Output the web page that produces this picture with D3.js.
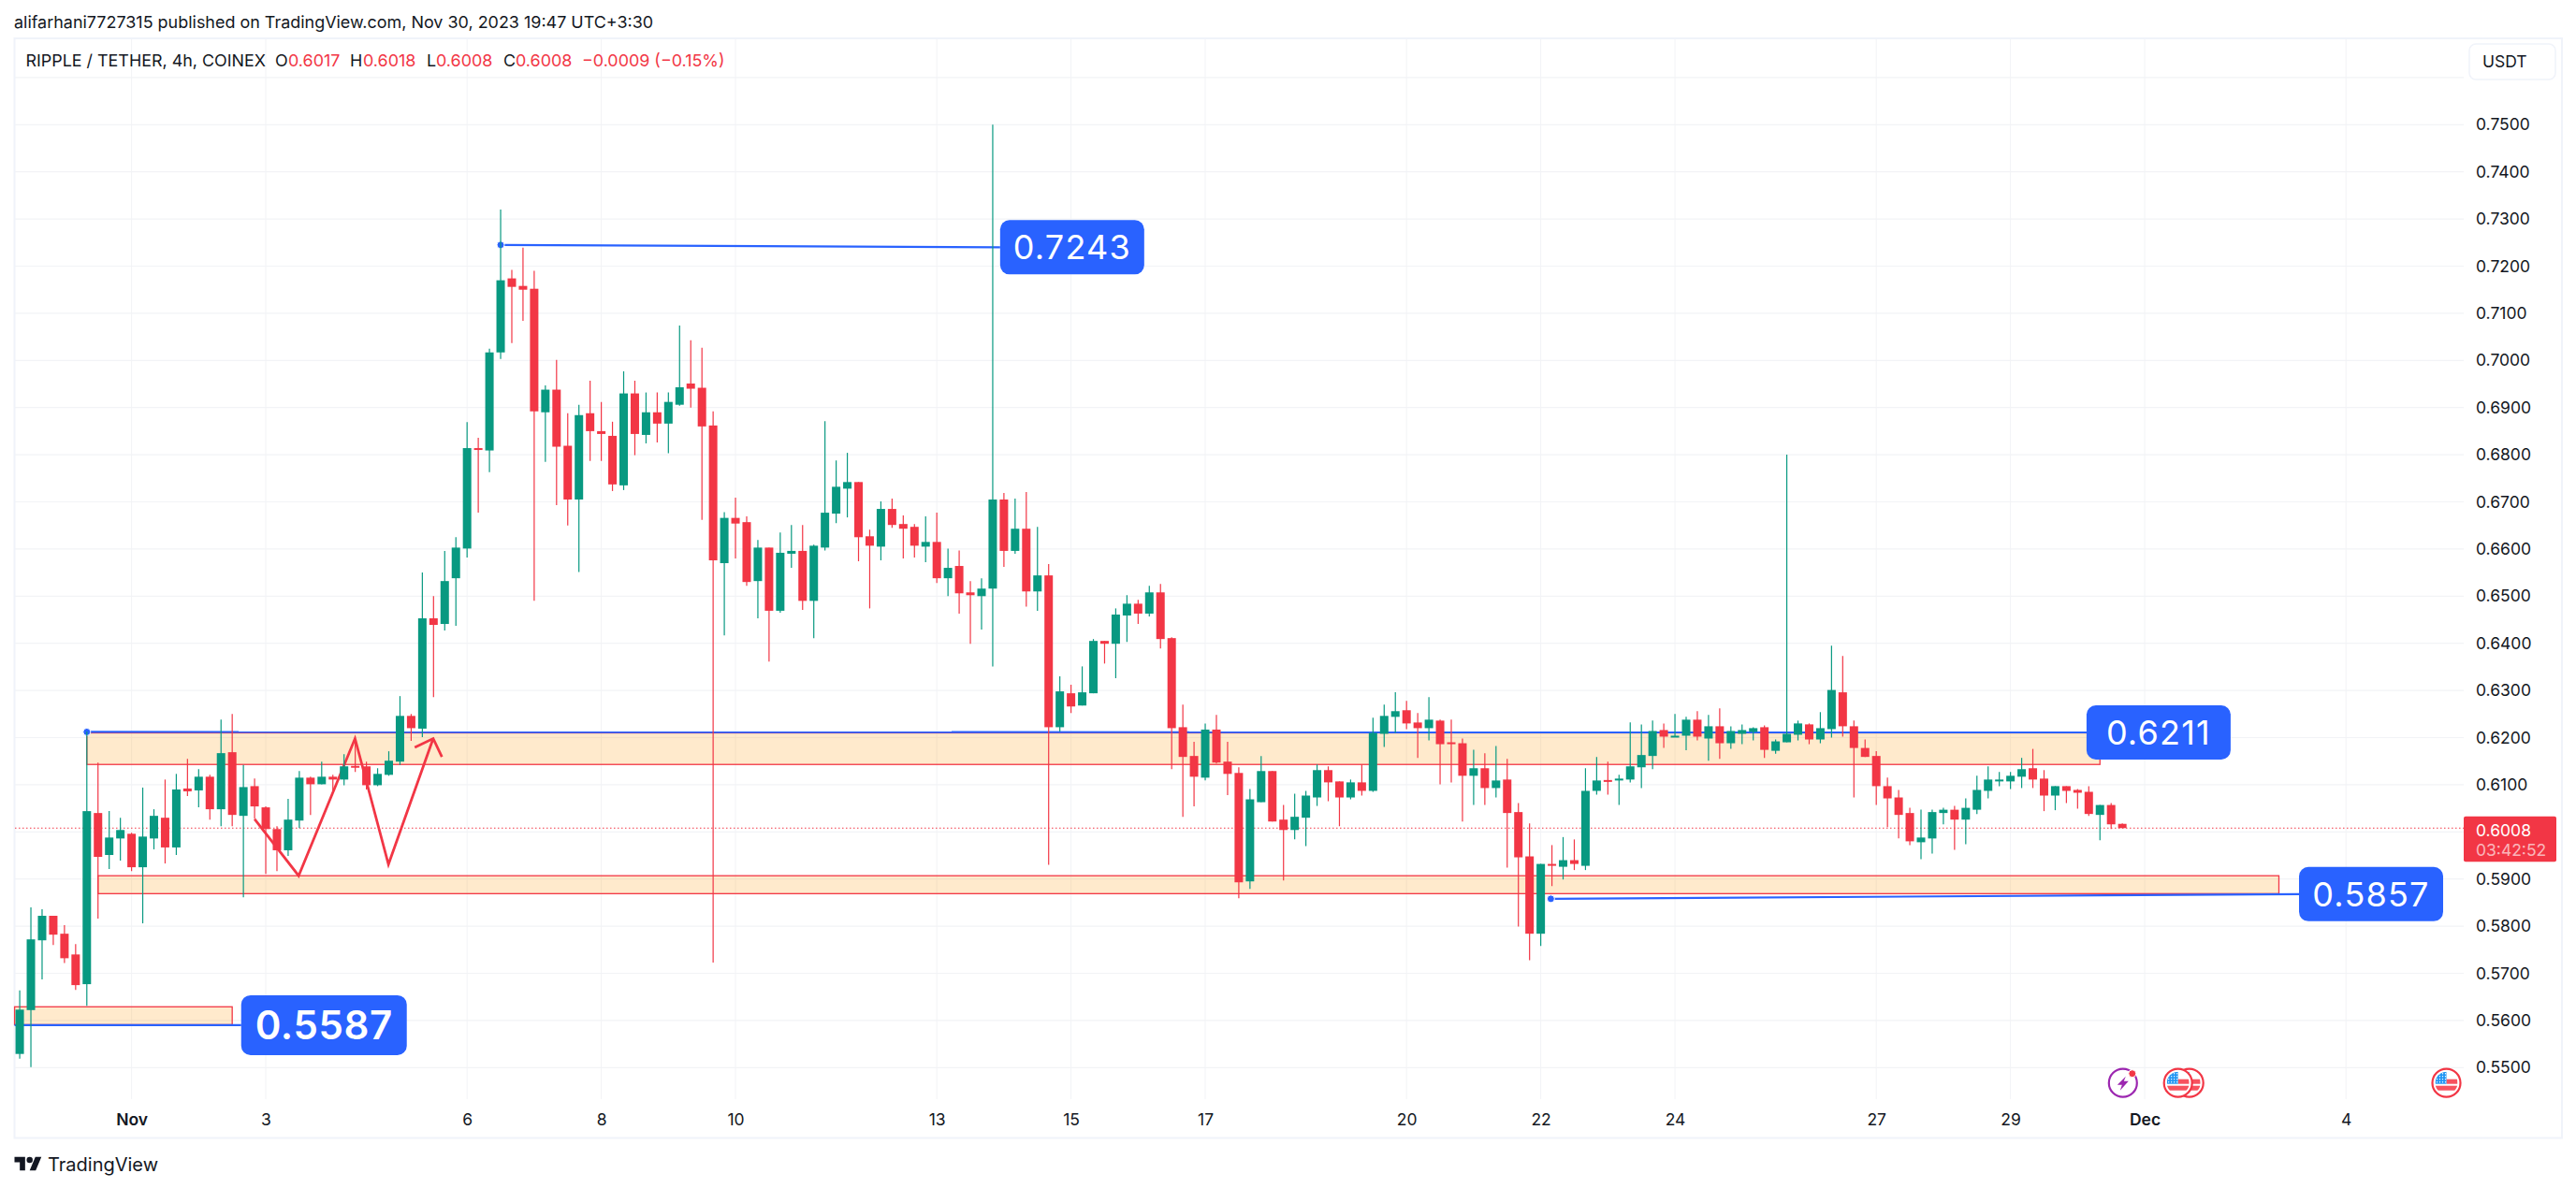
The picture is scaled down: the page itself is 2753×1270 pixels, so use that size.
<!DOCTYPE html>
<html>
<head>
<meta charset="utf-8">
<title>RIPPLE / TETHER, 4h, COINEX</title>
<script src="https://cdn.jsdelivr.net/npm/d3@7"></script>
<style>
    html, body { margin: 0; padding: 0; background: #fff; }
    svg { display: block; font-family: Inter, "Noto Sans", sans-serif; }
</style>
</head>
<body>
<svg id="chart" width="2753" height="1270"></svg>
<script>
// candle values, one entry per 4h bar
const opens = [
    .5529,.5622,.5770,.5822,.5784,.5740,.5677,.6040,.5951,.5986,.5996,.5925,.5986,.6030,.5967,.6092,.6088,.6117,.6048,.6169,
    .6034,.6097,.6052,.6006,.5961,.6024,.6115,.6101,.6117,.6111,.6140,.6139,.6099,.6121,.6149,.6246,.6219,.6453,.6441,.6538,
    .6601,.6814,.6809,.7017,.7174,.7158,.7152,.6890,.6938,.6819,.6705,.6888,.6850,.6840,.6735,.6930,.6842,.6890,.6866,.6906,
    .6951,.6942,.6862,.6570,.6666,.6657,.6532,.6603,.6469,.6590,.6596,.6490,.6603,.6675,.6728,.6742,.6627,.6605,.6685,.6653,
    .6647,.6605,.6615,.6538,.6564,.6508,.6500,.6516,.6705,.6596,.6643,.6510,.6544,.6222,.6294,.6268,.6294,.6405,.6399,.6459,
    .6484,.6463,.6508,.6411,.6222,.6161,.6115,.6217,.6149,.6125,.5895,.6063,.6129,.6026,.6004,.6030,.6073,.6131,.6107,.6073,
    .6105,.6087,.6208,.6244,.6258,.6232,.6220,.6236,.6190,.6188,.6119,.6135,.6093,.6111,.6042,.5948,.5784,.5932,.5926,.5940,
    .5928,.6087,.6110,.6109,.6111,.6137,.6161,.6216,.6202,.6204,.6238,.6198,.6224,.6188,.6208,.6212,.6222,.6172,.6190,.6206,
    .6228,.6196,.6218,.6296,.6224,.6178,.6161,.6097,.6073,.6040,.5978,.5986,.6040,.6047,.6026,.6047,.6087,.6110,.6107,.6117,
    .6135,.6113,.6077,.6097,.6089,.6085,.6036,.6057,.6017
];
const highs = [
    .5664,.5840,.5836,.5822,.5802,.5762,.6213,.6147,.6044,.6030,.5998,.6094,.6048,.6111,.6123,.6155,.6133,.6121,.6238,.6250,
    .6142,.6113,.6054,.6012,.6070,.6129,.6117,.6149,.6121,.6165,.6190,.6149,.6135,.6171,.6288,.6250,.6550,.6500,.6596,.6625,
    .6869,.6836,.7025,.7320,.7192,.7239,.7190,.6947,.7001,.6888,.6906,.6957,.6912,.6870,.6977,.6957,.6932,.6932,.6932,.7074,
    .7043,.7027,.6892,.6678,.6709,.6669,.6619,.6603,.6635,.6651,.6651,.6609,.6871,.6788,.6804,.6742,.6641,.6701,.6707,.6671,
    .6653,.6669,.6677,.6601,.6597,.6532,.6538,.7500,.6719,.6707,.6721,.6647,.6568,.6330,.6312,.6351,.6409,.6405,.6474,.6502,
    .6492,.6522,.6526,.6413,.6270,.6191,.6230,.6248,.6191,.6137,.6091,.6161,.6129,.6057,.6081,.6087,.6143,.6139,.6107,.6111,
    .6143,.6242,.6270,.6296,.6278,.6252,.6286,.6238,.6238,.6198,.6174,.6167,.6182,.6155,.6061,.6018,.5932,.5972,.5989,.5984,
    .6135,.6159,.6149,.6121,.6232,.6228,.6236,.6230,.6250,.6244,.6256,.6248,.6262,.6224,.6228,.6222,.6226,.6196,.6800,.6236,
    .6230,.6254,.6395,.6373,.6236,.6196,.6171,.6115,.6089,.6051,.6047,.6047,.6051,.6055,.6071,.6119,.6139,.6127,.6127,.6157,
    .6176,.6131,.6097,.6097,.6091,.6097,.6057,.6061,.6018
];
const lows = [
    .5519,.5501,.5687,.5760,.5722,.5665,.5631,.5816,.5921,.5939,.5917,.5806,.5963,.5933,.5951,.6076,.6052,.6026,.6012,.6012,
    .5861,.6028,.5911,.5917,.5949,.6008,.6036,.6101,.6088,.6099,.6127,.6090,.6097,.6119,.6142,.6193,.6201,.6286,.6427,.6437,
    .6582,.6677,.6763,.7003,.7037,.7084,.6490,.6785,.6693,.6650,.6551,.6787,.6787,.6723,.6725,.6799,.6824,.6826,.6803,.6904,
    .6900,.6662,.5723,.6417,.6580,.6522,.6453,.6361,.6465,.6560,.6471,.6411,.6597,.6655,.6667,.6574,.6474,.6576,.6645,.6580,
    .6582,.6572,.6528,.6500,.6463,.6399,.6429,.6351,.6562,.6590,.6478,.6469,.5930,.6213,.6252,.6268,.6294,.6357,.6326,.6403,
    .6441,.6457,.6389,.6133,.6032,.6054,.6109,.6145,.6078,.5859,.5879,.6063,.6022,.5897,.5984,.5970,.6055,.6065,.6012,.6069,
    .6077,.6085,.6180,.6210,.6218,.6157,.6194,.6101,.6105,.6022,.6057,.6057,.6073,.5924,.5799,.5728,.5758,.5885,.5899,.5919,
    .5919,.6079,.6079,.6057,.6105,.6093,.6133,.6178,.6202,.6173,.6194,.6151,.6155,.6176,.6186,.6194,.6157,.6166,.6190,.6194,
    .6186,.6188,.6200,.6202,.6073,.6159,.6057,.6010,.5986,.5972,.5942,.5954,.6016,.5962,.5974,.6038,.6071,.6097,.6091,.6093,
    .6093,.6044,.6046,.6061,.6049,.6034,.5982,.6006,.6008
];
const closes = [
    .5623,.5772,.5822,.5782,.5732,.5675,.6044,.5947,.5988,.6004,.5925,.5990,.6034,.5967,.6090,.6086,.6117,.6048,.6167,.6036,
    .6095,.6054,.6006,.5961,.6026,.6115,.6101,.6117,.6111,.6139,.6138,.6099,.6123,.6151,.6246,.6220,.6453,.6439,.6532,.6603,
    .6814,.6812,.7017,.7170,.7156,.7150,.6892,.6938,.6817,.6705,.6884,.6850,.6844,.6737,.6930,.6844,.6890,.6866,.6912,.6943,
    .6940,.6860,.6576,.6666,.6654,.6530,.6603,.6469,.6592,.6596,.6490,.6607,.6677,.6732,.6742,.6625,.6607,.6685,.6651,.6643,
    .6607,.6615,.6538,.6560,.6506,.6502,.6516,.6705,.6596,.6643,.6510,.6544,.6222,.6298,.6266,.6296,.6405,.6399,.6461,.6484,
    .6463,.6508,.6409,.6220,.6159,.6117,.6217,.6147,.6123,.5893,.6069,.6129,.6022,.6004,.6032,.6077,.6131,.6105,.6073,.6105,
    .6087,.6210,.6246,.6256,.6230,.6220,.6238,.6186,.6186,.6119,.6135,.6093,.6109,.6040,.5946,.5784,.5932,.5931,.5940,.5932,
    .6087,.6109,.6109,.6113,.6139,.6163,.6214,.6202,.6204,.6238,.6202,.6224,.6188,.6214,.6216,.6220,.6174,.6192,.6208,.6230,
    .6196,.6220,.6301,.6224,.6178,.6159,.6097,.6071,.6036,.5980,.5988,.6042,.6047,.6026,.6051,.6089,.6111,.6111,.6119,.6133,
    .6111,.6077,.6097,.6087,.6083,.6038,.6057,.6016,.6008
];

// axis ticks
const priceTicks = [.75,.74,.73,.72,.71,.70,.69,.68,.67,.66,.65,.64,.63,.62,.61,.59,.58,.57,.56,.55];
const gridPrices = [.76,.75,.74,.73,.72,.71,.70,.69,.68,.67,.66,.65,.64,.63,.62,.61,.60,.59,.58,.57,.56,.55];
const timeTicks = ["2023-11-01","2023-11-03","2023-11-06","2023-11-08","2023-11-10","2023-11-13","2023-11-15","2023-11-17",
    "2023-11-20","2023-11-22","2023-11-24","2023-11-27","2023-11-29","2023-12-01","2023-12-04"];
const timeLabels = ["Nov","3","6","8","10","13","15","17","20","22","24","27","29","Dec","4"];

// drawings on the chart, placed by bar number and price
const zones = [
    {from: 6, to: 186, top: .6210, bottom: .6143},
    {from: 7, to: 202, top: .5907, bottom: .5869},
    {from: -0.46, to: 19, top: .5629, bottom: .5591}
];
const callouts = [
    {text: "0.7243", from: 43, to: 87.66, p0: .7245, p1: .7240, dot: true},
    {text: "0.6211", from: 6, to: 184.8, p0: .6212, p1: .6211, dot: true},
    {text: "0.5857", from: 136.9, to: 203.8, p0: .5858, p1: .5868, dot: true},
    {text: "0.5587", from: -0.46, to: 19.8, p0: .5590, p1: .5590, dot: false, big: true}
];
const zigzagBars = [21, 24.94, 29.98, 32.97, 36.97];
const zigzagPrices = [.6027, .5907, .6198, .5931, .6198];
const arrowBars = [35.32, 36.97, 37.75];
const arrowPrices = [.6179, .6198, .6159];

const lastPrice = .6008;
const GREEN = "#089981", RED = "#f23645", BLUE = "#2962ff", TEXT = "#131722";
const GRID = "#f2f3f6", FRAME = "#f0f3fa";

const svg = d3.select("#chart");

// scales
const x = d3.scaleUtc()
    .domain([new Date("2023-11-01"), new Date("2023-12-04")])
    .range([140.6, 2507.2]);
const y = d3.scaleLinear().domain([.55, .75]).range([1141.3, 133.3]);

// bar 0 opens ten bars before Nov 1
function barX(i) {
    return x(new Date(Date.UTC(2023, 10, 1) + (i - 10) * 4 * 3600 * 1000));
}

const paneLeft = 16, paneRight = 2633, paneTop = 42, paneBottom = 1175;

// grid
svg.append("g").selectAll("line").data(gridPrices).join("line")
    .attr("x1", paneLeft).attr("x2", paneRight)
    .attr("y1", d => y(d)).attr("y2", d => y(d))
    .attr("stroke", GRID).attr("stroke-width", 1.2);
svg.append("g").selectAll("line").data(timeTicks).join("line")
    .attr("x1", d => x(new Date(d))).attr("x2", d => x(new Date(d)))
    .attr("y1", paneTop).attr("y2", paneBottom)
    .attr("stroke", GRID).attr("stroke-width", 1);

// frame
svg.append("rect")
    .attr("x", 15.5).attr("y", 41).attr("width", 2722.5).attr("height", 1175.5)
    .attr("fill", "none").attr("stroke", FRAME).attr("stroke-width", 2);

// zones
svg.append("g").selectAll("rect").data(zones).join("rect")
    .attr("x", d => barX(d.from))
    .attr("y", d => y(d.top))
    .attr("width", d => barX(d.to) - barX(d.from))
    .attr("height", d => y(d.bottom) - y(d.top))
    .attr("fill", "#ff9800").attr("fill-opacity", .2)
    .attr("stroke", RED).attr("stroke-width", 1.3);

// current price line
svg.append("line")
    .attr("x1", paneLeft).attr("x2", paneRight)
    .attr("y1", y(lastPrice)).attr("y2", y(lastPrice))
    .attr("stroke", RED).attr("stroke-width", 1.2).attr("stroke-dasharray", "1.5 2.5");

// blue lines with their labels
callouts.forEach(d => {
    svg.append("line")
        .attr("x1", barX(d.from)).attr("y1", y(d.p0))
        .attr("x2", barX(d.to)).attr("y2", y(d.p1))
        .attr("stroke", BLUE).attr("stroke-width", 2.2);
    if (d.dot) {
        svg.append("circle")
            .attr("cx", barX(d.from)).attr("cy", y(d.p0)).attr("r", 4)
            .attr("fill", BLUE).attr("stroke", "#fff").attr("stroke-width", 1);
    }
    let w = d.big ? 177 : 154, h = d.big ? 64 : 58;
    svg.append("rect")
        .attr("x", barX(d.to)).attr("y", y(d.p1) - h / 2)
        .attr("width", w).attr("height", h).attr("rx", 10)
        .attr("fill", BLUE);
    svg.append("text")
        .attr("x", barX(d.to) + w / 2).attr("y", y(d.p1))
        .attr("dy", ".36em").attr("text-anchor", "middle")
        .attr("fill", "#fff")
        .attr("font-size", d.big ? 42 : 36)
        .attr("font-weight", d.big ? 600 : 400)
        .attr("letter-spacing", d.big ? .6 : 1.2)
        .text(d.text);
});

// hand drawn zigzag and arrow head
const pen = d3.line().x(d => barX(d[0])).y(d => y(d[1]));
[d3.zip(zigzagBars, zigzagPrices), d3.zip(arrowBars, arrowPrices)].forEach(pts => {
    svg.append("path").attr("d", pen(pts))
        .attr("fill", "none").attr("stroke", RED).attr("stroke-width", 2.8);
});

// candles
const bars = d3.range(opens.length);
const candles = svg.append("g").selectAll("g").data(bars).join("g")
    .attr("fill", i => closes[i] >= opens[i] ? GREEN : RED)
    .attr("stroke", i => closes[i] >= opens[i] ? GREEN : RED);
candles.append("line")
    .attr("x1", i => barX(i)).attr("x2", i => barX(i))
    .attr("y1", i => y(highs[i])).attr("y2", i => y(lows[i]))
    .attr("stroke-width", 1.2);
candles.append("rect")
    .attr("x", i => barX(i) - 4.5).attr("width", 9)
    .attr("y", i => y(Math.max(opens[i], closes[i])))
    .attr("height", i => Math.max(2, Math.abs(y(opens[i]) - y(closes[i]))))
    .attr("stroke", "none");

// axes
const priceAxis = d3.axisRight(y).tickValues(priceTicks).tickSize(0).tickPadding(13).tickFormat(d3.format(".4f"));
const gy = svg.append("g").attr("transform", "translate(" + paneRight + ",0)").call(priceAxis);
gy.select(".domain").remove();
gy.selectAll("text").attr("font-size", 17.5).attr("fill", TEXT);
gy.attr("font-family", null);

const timeAxis = d3.axisBottom(x).tickValues(timeTicks.map(d => new Date(d))).tickSize(0)
    .tickFormat((d, i) => timeLabels[i]);
const gx = svg.append("g").attr("transform", "translate(0,1187.3)").call(timeAxis);
gx.select(".domain").remove();
gx.attr("font-family", null);
gx.selectAll("text").attr("font-size", 17.5).attr("fill", TEXT)
    .attr("font-weight", (d, i) => timeLabels[i] == "Nov" || timeLabels[i] == "Dec" ? 600 : 400);

// last price tag
svg.append("rect").attr("x", 2633).attr("y", 872.7).attr("width", 99).attr("height", 48.5).attr("rx", 2).attr("fill", RED);
svg.append("text").attr("x", 2646).attr("y", 893.5).attr("font-size", 17.5).attr("fill", "#fff").text(d3.format(".4f")(lastPrice));
svg.append("text").attr("x", 2646).attr("y", 914.5).attr("font-size", 17.5).attr("fill", "#fff").attr("fill-opacity", .65).text("03:42:52");

// USDT button
svg.append("rect").attr("x", 2639).attr("y", 47).attr("width", 92).attr("height", 38).attr("rx", 7)
    .attr("fill", "#fff").attr("stroke", FRAME).attr("stroke-width", 1.5);
svg.append("text").attr("x", 2653).attr("y", 72).attr("font-size", 17.5).attr("fill", TEXT).text("USDT");

// header texts
svg.append("text").attr("x", 15).attr("y", 30).attr("font-size", 17.96).attr("fill", TEXT)
    .text("alifarhani7727315 published on TradingView.com, Nov 30, 2023 19:47 UTC+3:30");
svg.append("text").attr("x", 27.5).attr("y", 71).attr("font-size", 17.9).attr("fill", TEXT)
    .text("RIPPLE / TETHER, 4h, COINEX");
const legend = [["O", 294, TEXT], ["0.6017", 308, RED], ["H", 374, TEXT], ["0.6018", 388, RED], ["L", 456, TEXT], ["0.6008", 466, RED],
    ["C", 538, TEXT], ["0.6008", 551, RED], ["−0.0009 (−0.15%)", 622, RED]];
svg.append("g").selectAll("text").data(legend).join("text")
    .attr("x", d => d[1]).attr("y", 71).attr("font-size", 17.9).attr("fill", d => d[2])
    .text(d => d[0]);

// event icons under the candles
function flag(cx) {
    let id = "flag" + Math.round(cx);
    let g = svg.append("g").attr("transform", "translate(" + cx + ",1157.7)");
    g.append("clipPath").attr("id", id).append("circle").attr("r", 12);
    g.append("circle").attr("r", 15).attr("fill", "#fff").attr("stroke", RED).attr("stroke-width", 2.2);
    let inner = g.append("g").attr("clip-path", "url(#" + id + ")");
    inner.append("rect").attr("x", -12).attr("y", 3).attr("width", 24).attr("height", 5).attr("fill", "#f7525f");
    inner.append("rect").attr("x", 0).attr("y", -4).attr("width", 12).attr("height", 5).attr("fill", "#f7525f");
    inner.append("rect").attr("x", -12).attr("y", -12).attr("width", 12).attr("height", 13).attr("fill", "#2196f3");
    d3.range(-10, 0, 3).forEach(px => d3.range(-10, 0, 3).forEach(py => {
        inner.append("circle").attr("cx", px).attr("cy", py).attr("r", .7).attr("fill", "#fff");
    }));
}
flag(2339.7);
flag(2327.7);
flag(2614.5);

let bolt = svg.append("g").attr("transform", "translate(2268.8,1157.7)");
bolt.append("circle").attr("r", 15).attr("fill", "#fff").attr("stroke", "#9c27b0").attr("stroke-width", 2.2);
bolt.append("path").attr("d", "M3,-7 L-6,2 L-1,2 L-3,8 L6,-2 L1,-2 Z").attr("fill", "#9c27b0");
bolt.append("circle").attr("cx", 10).attr("cy", -10).attr("r", 4).attr("fill", RED).attr("stroke", "#fff");

// TradingView mark
let logo = svg.append("g").attr("transform", "translate(15.5,1233.5) scale(.81)").attr("fill", TEXT);
logo.append("path").attr("d", "M14 22H7V11H0V4h14v18zM28 22h-8l7.5-18h8L28 22z");
logo.append("circle").attr("cx", 20).attr("cy", 8).attr("r", 4);
svg.append("text").attr("x", 51).attr("y", 1252).attr("font-size", 20).attr("fill", TEXT).text("TradingView");
</script>
</body>
</html>
